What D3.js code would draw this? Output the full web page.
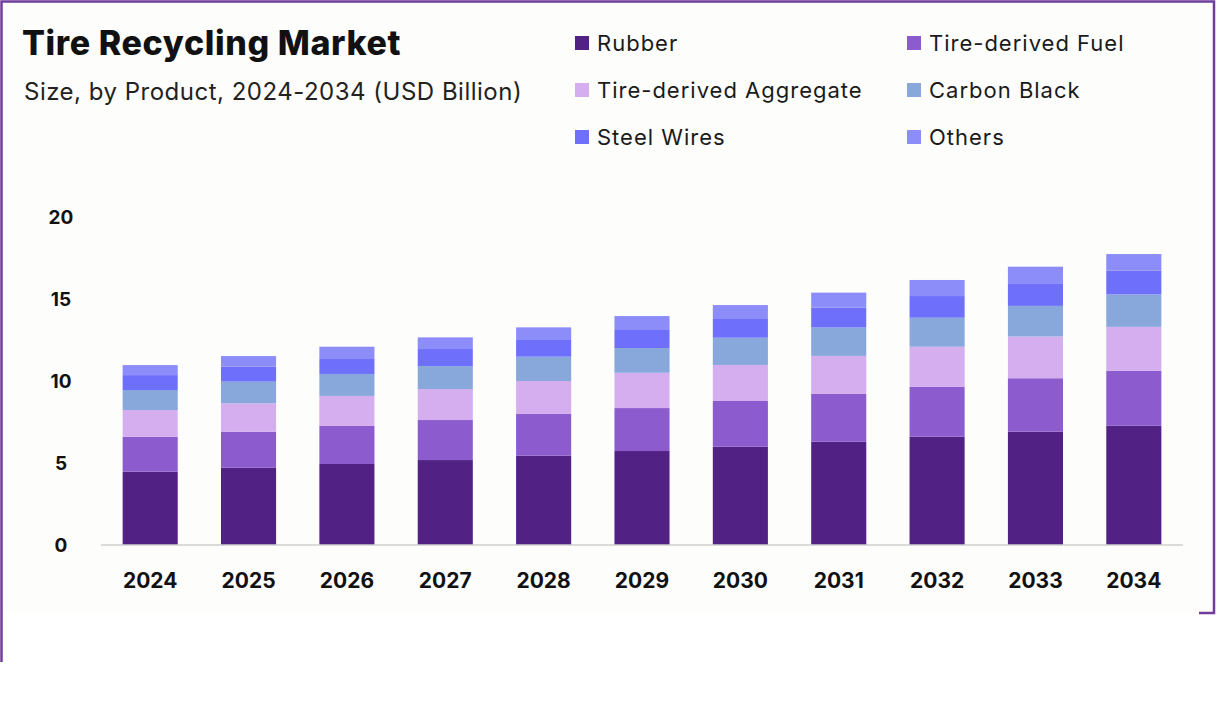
<!DOCTYPE html>
<html>
<head>
<meta charset="utf-8">
<script src="https://cdn.jsdelivr.net/npm/d3@7"></script>
<style>
  body { margin: 0; background: #fff; }
  svg { display: block; font-family: Inter, "Open Sans", sans-serif; }
</style>
</head>
<body>
<div id="chart"></div>
<script>
// data
var years = ["2024", "2025", "2026", "2027", "2028", "2029", "2030", "2031", "2032", "2033", "2034"];
var totals = ["11.0", "11.5", "12.1", "12.7", "13.3", "14.0", "14.7", "15.4", "16.1", "16.9", "17.7"];
var rubber      = [4.47, 4.71, 4.94, 5.18, 5.45, 5.73, 5.99, 6.30, 6.60, 6.91, 7.27];
var fuel        = [2.13, 2.20, 2.32, 2.44, 2.54, 2.62, 2.79, 2.91, 3.05, 3.26, 3.35];
var aggregate   = [1.63, 1.73, 1.83, 1.89, 2.01, 2.15, 2.20, 2.32, 2.44, 2.54, 2.68];
var carbonBlack = [1.22, 1.32, 1.34, 1.40, 1.48, 1.51, 1.66, 1.73, 1.77, 1.87, 1.98];
var steelWires  = [0.91, 0.91, 0.91, 1.04, 1.02, 1.10, 1.14, 1.22, 1.32, 1.38, 1.44];
var others      = [0.61, 0.65, 0.75, 0.71, 0.77, 0.85, 0.85, 0.91, 0.98, 1.01, 1.02];
var yTicks = [0, 5, 10, 15, 20];

var seriesNames = ["Rubber", "Tire-derived Fuel", "Tire-derived Aggregate", "Carbon Black", "Steel Wires", "Others"];
var seriesValues = [rubber, fuel, aggregate, carbonBlack, steelWires, others];
var colors = ["#512183", "#8c5ccf", "#d4aeef", "#88a7db", "#6e6ffa", "#8c8df8"];

var width = 1216, height = 709;

var svg = d3.select("#chart").append("svg")
  .attr("width", width)
  .attr("height", height);

// slightly off-white panel of the original image
svg.append("rect")
  .attr("x", 0).attr("y", 0)
  .attr("width", 1214).attr("height", 612)
  .attr("fill", "#fdfdfc");

// frame
svg.append("path")
  .attr("d", "M1.5,662 L1.5,1.5 L1214,1.5 L1214,613 L1199,613")
  .attr("fill", "none")
  .attr("stroke", "#6f3d9c")
  .attr("stroke-width", 2.5);

// titles
svg.append("text")
  .attr("x", 22).attr("y", 55)
  .attr("font-size", 34).attr("font-weight", 800)
  .attr("letter-spacing", 0.6)
  .attr("fill", "#111")
  .text("Tire Recycling Market");

svg.append("text")
  .attr("x", 24).attr("y", 100)
  .attr("font-size", 24)
  .attr("letter-spacing", 0.5)
  .attr("fill", "#222")
  .text("Size, by Product, 2024-2034 (USD Billion)");

// legend
var legend = svg.append("g").attr("class", "legend");
seriesNames.forEach(function(name, i) {
  var col = i % 2, row = Math.floor(i / 2);
  var lx = col === 0 ? 575 : 907;
  var ly = 43 + row * 47;
  legend.append("rect")
    .attr("x", lx).attr("y", ly - 7)
    .attr("width", 14).attr("height", 14)
    .attr("fill", colors[i]);
  legend.append("text")
    .attr("x", lx + 22).attr("y", ly + 8)
    .attr("font-size", 22)
    .attr("letter-spacing", 1)
    .attr("fill", "#1a1a1a")
    .text(name);
});

// scales
var x = d3.scaleBand()
  .domain(years)
  .range([101, 1183])
  .paddingInner(0.44)
  .paddingOuter(0.22);

var y = d3.scaleLinear()
  .domain([0, 20])
  .range([545, 217]);

// stack
var rows = years.map(function(yr, i) {
  var r = { year: yr };
  seriesNames.forEach(function(n, k) { r[n] = seriesValues[k][i]; });
  return r;
});
var stacked = d3.stack().keys(seriesNames)(rows);

var layers = svg.append("g").attr("class", "bars")
  .selectAll("g")
  .data(stacked)
  .enter().append("g")
  .attr("fill", function(d, i) { return colors[i]; });

layers.selectAll("rect")
  .data(function(d) { return d; })
  .enter().append("rect")
  .attr("x", function(d) { return x(d.data.year); })
  .attr("y", function(d) { return y(d[1]); })
  .attr("width", x.bandwidth())
  .attr("height", function(d) { return y(d[0]) - y(d[1]); });

// total labels
var top = stacked[stacked.length - 1];
svg.append("g").selectAll("text")
  .data(top)
  .enter().append("text")
  .attr("x", function(d) { return x(d.data.year) + x.bandwidth() / 2; })
  .attr("y", function(d) { return y(d[1]) - 23; })
  .attr("text-anchor", "middle")
  .attr("font-size", 20)
  .attr("fill", "#1a1a1a")
  .text(function(d, i) { return totals[i]; });

// baseline
svg.append("line")
  .attr("x1", 101).attr("x2", 1183)
  .attr("y1", y(0)).attr("y2", y(0))
  .attr("stroke", "#cfcfcf")
  .attr("stroke-width", 1.5);

// y tick labels
svg.append("g").selectAll("text")
  .data(yTicks)
  .enter().append("text")
  .attr("x", 61)
  .attr("y", function(d) { return y(d) + 7; })
  .attr("text-anchor", "middle")
  .attr("font-size", 19).attr("font-weight", 700)
  .attr("fill", "#111")
  .text(function(d) { return d; });

// x tick labels
svg.append("g").selectAll("text")
  .data(years)
  .enter().append("text")
  .attr("x", function(d) { return x(d) + x.bandwidth() / 2; })
  .attr("y", 588)
  .attr("text-anchor", "middle")
  .attr("font-size", 21).attr("font-weight", 700)
  .attr("fill", "#111")
  .text(function(d) { return d; });
</script>
</body>
</html>
